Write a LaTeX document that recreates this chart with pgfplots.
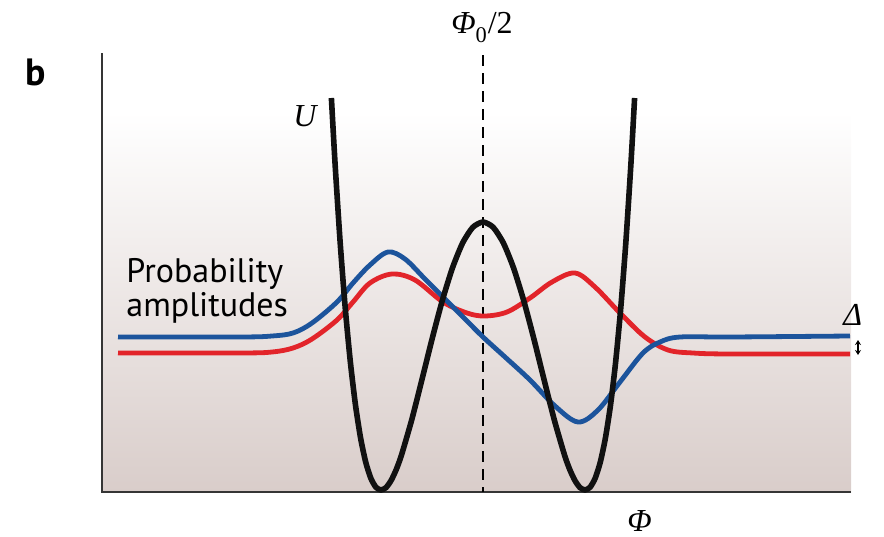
\documentclass[border=0pt]{standalone}
\usepackage{pgfplots}
\pgfplotsset{compat=1.18}
\usetikzlibrary{arrows.meta}
\usepackage{fontspec}
\setmainfont{Liberation Serif}
\newfontfamily\sansf{PT Sans}
\definecolor{bgc}{RGB}{217,205,202}
\definecolor{cblue}{RGB}{28,84,156}
\definecolor{cred}{RGB}{226,36,42}
\definecolor{cblack}{RGB}{17,17,17}
\begin{document}
\begin{tikzpicture}
\begin{axis}[scale only axis, width=442pt, height=268pt,
  xmin=0, xmax=884, ymin=0, ymax=536, y dir=reverse, hide axis, clip=false]
\path (axis cs:0,0) rectangle (axis cs:884,536);
\fill[top color=white, bottom color=bgc] (axis cs:102,112) rectangle (axis cs:851,492);
\draw[line width=1pt, cblack!85] (axis cs:102,53) -- (axis cs:102,492) -- (axis cs:851,492);
% dashed line at Phi0/2
\addplot[line width=1pt, black, dash pattern=on 5.5pt off 3.5pt] coordinates {(483,55) (483,492)};
% red amplitude
\addplot[line width=2.4pt, cred, smooth, tension=0.55] coordinates {
(118,353)(240,353)(272,352)(293,348)(312,339)(337,320)(353,302)(370,283)(392,274)(415,280)(443,302)(467,313)(485,316)(507,312)(530,298)(552,282)(575,273)(595,287)(620,313)(645,337)(668,350)(693,353)(730,354)(850,354)};
% blue amplitude
\addplot[line width=2.4pt, cblue, smooth, tension=0.55] coordinates {
(118,337)(240,337)(272,336)(293,333)(312,323)(337,302)(353,283)(370,265)(388,252)(405,259)(425,279)(445,299)(465,319)(483,337)(505,357)(530,380)(555,406)(578,422)(598,410)(620,382)(643,353)(660,342)(680,337)(730,337)(850,336)};
% potential U
\addplot[line width=2.8pt, cblack, smooth, tension=0.4] coordinates {
(331.4,98)(335.1,164.2)(340.2,243)(345.3,308.7)(350.4,362.4)(355.5,405.2)(360.6,438.1)(365.7,462.1)(370.8,478.2)(375.9,487.2)(381,490)(386.1,487.5)(391.2,480.3)(396.3,469.4)(401.4,455.3)(411.6,420.3)(421.8,380.2)(432,339.3)(442.2,300.9)(452.4,268.1)(462.6,243)(472.8,227.3)(483,222)
(493.2,227.3)(503.4,243)(513.6,268.1)(523.8,300.9)(534,339.3)(544.2,380.2)(554.4,420.3)(564.6,455.3)(569.7,469.4)(574.8,480.3)(579.9,487.5)(585,490)(590.1,487.2)(595.2,478.2)(600.3,462.1)(605.4,438.1)(610.5,405.2)(615.6,362.4)(620.7,308.7)(625.8,243)(630.9,164.2)(634.6,98)};
% labels
\node[anchor=base west, inner sep=0pt, font=\sansf\bfseries\fontsize{19}{19}\selectfont] at (axis cs:25,85) {b};
\node[anchor=base, inner sep=0pt, font=\fontsize{16}{16}\selectfont] at (axis cs:482,33) {\textit{Φ}\raisebox{-0.3ex}{\textsubscript{0}}/2};
\node[anchor=base west, inner sep=0pt, font=\fontsize{16}{16}\selectfont] at (axis cs:293,126) {\textit{U}};
\node[anchor=base west, inner sep=0pt, font=\sansf\fontsize{17}{17}\selectfont] at (axis cs:126,282) {Probability};
\node[anchor=base west, inner sep=0pt, font=\sansf\fontsize{17}{17}\selectfont] at (axis cs:126,316) {amplitudes};
\node[anchor=base west, inner sep=0pt, font=\fontsize{16}{16}\selectfont] at (axis cs:843,325) {\textit{Δ}};
\node[anchor=base west, inner sep=0pt, font=\fontsize{16}{16}\selectfont] at (axis cs:627,531) {\textit{Φ}};
\draw[line width=0.7pt, {Stealth[length=2.5pt,width=3pt]}-{Stealth[length=2.5pt,width=3pt]}] (axis cs:858,340) -- (axis cs:858,355);
\end{axis}
\end{tikzpicture}
\end{document}
